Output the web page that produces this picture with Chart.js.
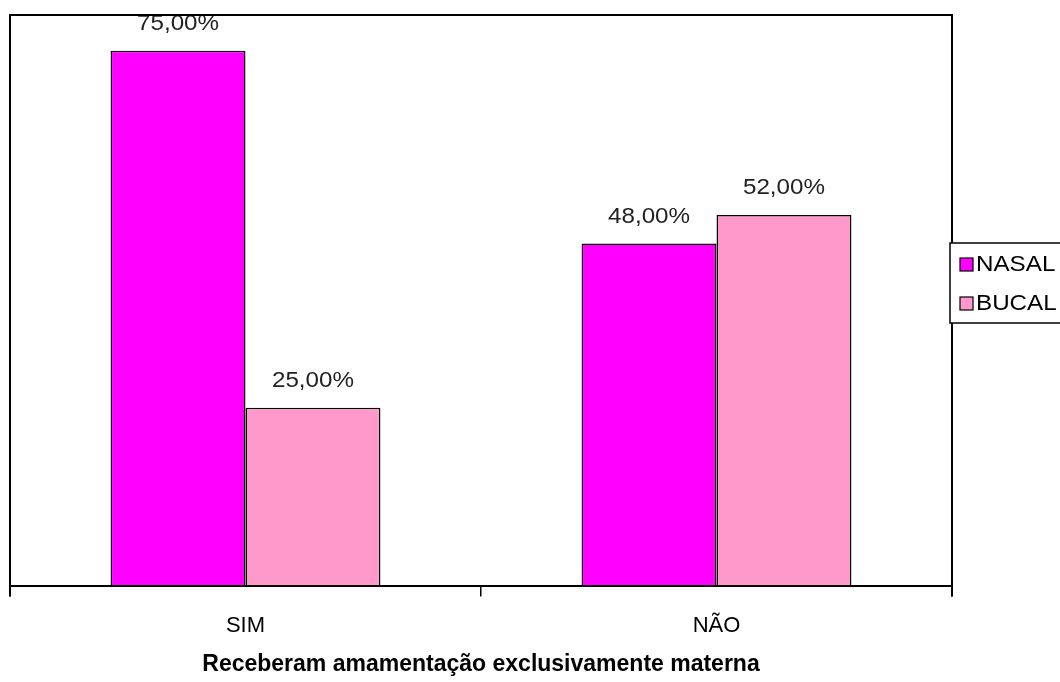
<!DOCTYPE html>
<html>
<head>
    <title>Amamentação</title>
    <script src="https://cdn.jsdelivr.net/npm/chart.js@4.4.0/dist/chart.umd.min.js"></script>
    <style>
        body { margin: 0; background: #fff; }
        #wrap { width: 1060px; height: 682px; }
    </style>
</head>
<body>
    <div id="wrap"><canvas id="chart" width="1060" height="682"></canvas></div>

    <script>
        const categories = ['SIM', 'NÃO'];
        const nasal = [75, 48];
        const bucal = [25, 52];
        const seriesNames = ['NASAL', 'BUCAL'];
        const axisTitle = 'Receberam amamentação exclusivamente materna';

        const fontFamily = '"Liberation Sans", Arial, sans-serif';

        // texto levemente esticado na horizontal, como no original
        function stretchedText(ctx, txt, x, y, align) {
            ctx.save();
            ctx.translate(x, y);
            ctx.scale(1.1, 1);
            ctx.textAlign = align;
            ctx.fillText(txt, 0, 0);
            ctx.restore();
        }

        // rótulos de valor acima das barras
        const valueLabels = {
            id: 'valueLabels',
            afterDatasetsDraw(chart) {
                const ctx = chart.ctx;
                ctx.save();
                ctx.font = '22px ' + fontFamily;
                ctx.fillStyle = '#222';
                ctx.textBaseline = 'middle';
                chart.data.datasets.forEach((ds, i) => {
                    chart.getDatasetMeta(i).data.forEach((bar, j) => {
                        const txt = ds.data[j].toFixed(2).replace('.', ',') + '%';
                        stretchedText(ctx, txt, bar.x, bar.y - 27, 'center');
                    });
                });
                ctx.restore();
            }
        };

        // moldura da área do gráfico + legenda
        const frameAndLegend = {
            id: 'frameAndLegend',
            afterDraw(chart) {
                const a = chart.chartArea;
                const ctx = chart.ctx;
                ctx.save();
                ctx.strokeStyle = '#000';
                ctx.lineWidth = 2;
                ctx.beginPath();
                ctx.moveTo(a.left, a.bottom + 10);
                ctx.lineTo(a.left, a.top);
                ctx.lineTo(a.right, a.top);
                ctx.lineTo(a.right, a.bottom + 10);
                ctx.stroke();

                ctx.lineWidth = 1.5;
                ctx.fillStyle = '#fff';
                ctx.fillRect(950, 243, 120, 80);
                ctx.strokeRect(950, 243, 120, 80);
                ctx.font = '22px ' + fontFamily;
                ctx.textBaseline = 'middle';
                const ys = [265, 304];
                chart.data.datasets.forEach((ds, i) => {
                    ctx.fillStyle = ds.backgroundColor;
                    ctx.fillRect(960, ys[i] - 7, 13, 13);
                    ctx.lineWidth = 1.2;
                    ctx.strokeRect(960, ys[i] - 7, 13, 13);
                    ctx.fillStyle = '#000';
                    stretchedText(ctx, ds.label, 976, ys[i], 'left');
                });
                ctx.restore();
            }
        };

        new Chart(document.getElementById('chart').getContext('2d'), {
            type: 'bar',
            data: {
                labels: categories,
                datasets: [
                    {
                        label: seriesNames[0],
                        data: nasal,
                        backgroundColor: '#FF00FF',
                        borderColor: '#000',
                        borderWidth: 1.5,
                        borderSkipped: false
                    },
                    {
                        label: seriesNames[1],
                        data: bucal,
                        backgroundColor: '#FF99CC',
                        borderColor: '#000',
                        borderWidth: 1.5,
                        borderSkipped: false
                    }
                ]
            },
            options: {
                responsive: false,
                animation: false,
                categoryPercentage: 0.573,
                barPercentage: 1,
                layout: { padding: { left: 10, top: 15, right: 108, bottom: 4 } },
                plugins: {
                    legend: { display: false },
                    tooltip: { enabled: false }
                },
                scales: {
                    x: {
                        grid: {
                            offset: true,
                            drawOnChartArea: false,
                            drawTicks: true,
                            tickLength: 10,
                            color: '#000',
                            lineWidth: 1.5
                        },
                        border: { color: '#000', width: 2 },
                        ticks: {
                            color: '#000',
                            padding: 19,
                            font: { family: fontFamily, size: 22, lineHeight: 1.0 }
                        },
                        title: {
                            display: true,
                            text: axisTitle,
                            color: '#000',
                            padding: { top: -6, bottom: 0 },
                            font: { family: fontFamily, size: 23, weight: 'bold' }
                        }
                    },
                    y: {
                        display: false,
                        min: 0,
                        max: 80
                    }
                }
            },
            plugins: [valueLabels, frameAndLegend]
        });
    </script>
</body>
</html>
